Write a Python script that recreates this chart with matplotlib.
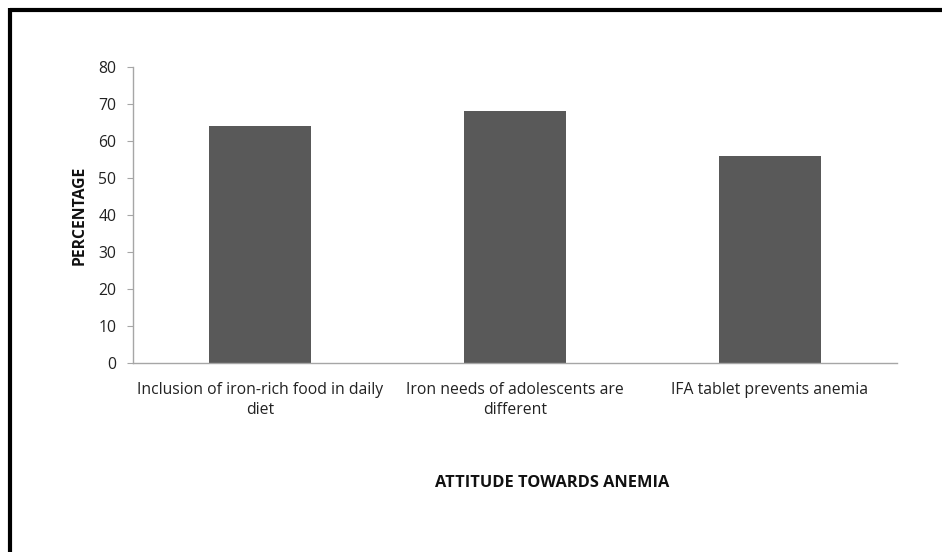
import matplotlib

matplotlib.use("Agg")
import matplotlib.pyplot as plt
from matplotlib.lines import Line2D

categories = [
    "Inclusion of iron-rich food in daily\ndiet",
    "Iron needs of adolescents are\ndifferent",
    "IFA tablet prevents anemia",
]
percentages = [64, 68, 56]
y_ticks = [0, 10, 20, 30, 40, 50, 60, 70, 80]

plt.rcParams["font.family"] = ["Open Sans", "DejaVu Sans"]

fig = plt.figure(figsize=(9.42, 5.52), dpi=100)
ax = fig.add_axes([0.1412, 0.3424, 0.811, 0.5362])

x = range(len(categories))
ax.bar(x, percentages, width=0.4, color="#595959")
ax.set_xlim(-0.5, len(categories) - 0.5)
ax.set_ylim(0, 80)
ax.set_yticks(y_ticks)
ax.set_xticks(list(x))
ax.set_xticklabels(categories, fontsize=11.3, color="#222222", linespacing=1.28)
ax.tick_params(axis="y", labelsize=11.3, colors="#222222", length=4, width=0.8, pad=8)
ax.tick_params(axis="y", color="#a6a6a6")
ax.tick_params(axis="x", length=0, pad=14)

for side in ("top", "right"):
    ax.spines[side].set_visible(False)
for side in ("left", "bottom"):
    ax.spines[side].set_color("#a6a6a6")
    ax.spines[side].set_linewidth(1.0)

fig.text(80 / 942, 1 - 215 / 552, "PERCENTAGE", rotation=90, ha="center", va="center",
         fontsize=11.3, fontweight="bold", color="#111111")
fig.text(552 / 942, 1 - 483 / 552, "ATTITUDE TOWARDS ANEMIA", ha="center", va="center",
         fontsize=11.8, fontweight="bold", color="#111111")

# heavy frame along the top and left edges
fig.add_artist(Line2D([9.5 / 942, 1.0], [1 - 9.5 / 552, 1 - 9.5 / 552], transform=fig.transFigure,
                      color="black", linewidth=3, solid_capstyle="butt"))
fig.add_artist(Line2D([9.5 / 942, 9.5 / 942], [0.0, 1 - 8 / 552], transform=fig.transFigure,
                      color="black", linewidth=3, solid_capstyle="butt"))

fig.savefig("out.png", dpi=100)
plt.close(fig)
